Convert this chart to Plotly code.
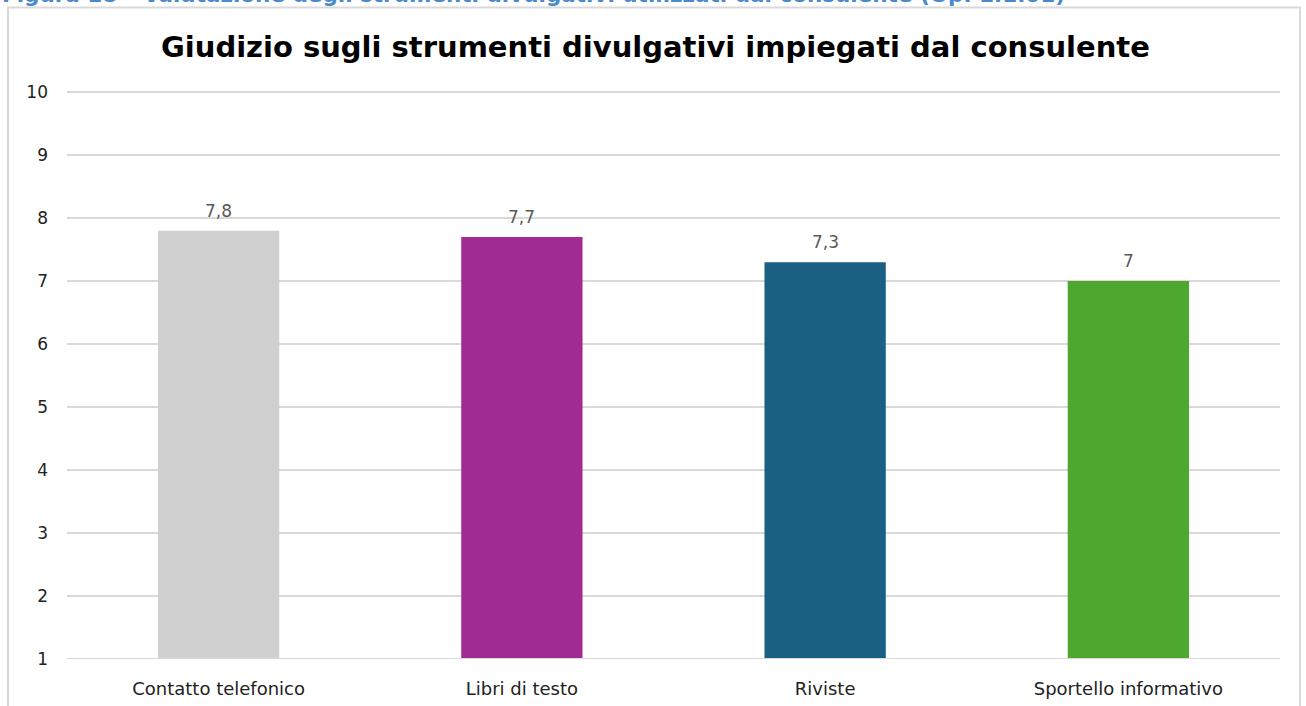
import plotly.graph_objects as go

categories = ["Contatto telefonico", "Libri di testo", "Riviste", "Sportello informativo"]
values = [7.8, 7.7, 7.3, 7.0]
value_labels = ["7,8", "7,7", "7,3", "7"]
bar_colors = ["#d0d0d0", "#a02b93", "#196083", "#4ea72e"]
y_ticks = [1, 2, 3, 4, 5, 6, 7, 8, 9, 10]
title_text = "Giudizio sugli strumenti divulgativi impiegati dal consulente"
caption_text = "Figura 18 – Valutazione degli strumenti divulgativi utilizzati dal consulente (Op. 1.1.01)"

FONT = "DejaVu Sans"

fig = go.Figure(go.Bar(
    x=categories,
    y=values,
    marker=dict(color=bar_colors, line=dict(width=0)),
    hoverinfo="x+y",
))

W, H = 1306, 706
ml, mr, mt, mb = 67, 26, 89, 47
pw, ph = W - ml - mr, H - mt - mb

def px_x(p):
    return (p - ml) / pw

def px_y(p):
    return (H - mb - p) / ph

annotations = [
    dict(text="<b>" + title_text + "</b>", xref="paper", yref="paper",
         x=px_x(655), y=px_y(47), xanchor="center", yanchor="middle",
         showarrow=False, font=dict(family=FONT, size=29, color="#000000")),
    dict(text="<b>" + caption_text + "</b>", xref="paper", yref="paper",
         x=px_x(0), y=px_y(9.5), xanchor="left", yanchor="bottom",
         showarrow=False, font=dict(family=FONT, size=21.5, color="#4a89cc")),
]
for c, v, lab in zip(categories, values, value_labels):
    annotations.append(dict(
        x=c, y=v, xref="x", yref="y", text=lab, showarrow=False,
        yanchor="bottom", yshift=8,
        font=dict(family=FONT, size=17, color="#595959"),
    ))

fig.update_layout(
    width=W, height=H,
    margin=dict(l=ml, r=mr, t=mt, b=mb, pad=0, autoexpand=False),
    paper_bgcolor="white", plot_bgcolor="white",
    separators=",.",
    bargap=0.6,
    showlegend=False,
    font=dict(family=FONT, size=17, color="#222222"),
    xaxis=dict(
        showgrid=False, showline=False, zeroline=False, automargin=False,
        ticks="", tickfont=dict(family=FONT, size=18, color="#222222"),
        ticklabelstandoff=17,
    ),
    yaxis=dict(
        range=[1, 10.05], tickvals=y_ticks, showgrid=True, gridcolor="#d9d9d9", gridwidth=1.5,
        zeroline=False, showline=False, ticks="", automargin=False,
        tickfont=dict(family=FONT, size=17, color="#222222"),
        ticklabelstandoff=18,
    ),
    annotations=annotations,
    shapes=[
        dict(type="rect", xref="paper", yref="paper",
             x0=px_x(8), x1=px_x(1300), y0=px_y(760), y1=px_y(7.5),
             line=dict(color="#d9d9d9", width=2), fillcolor="rgba(0,0,0,0)", layer="below"),
        dict(type="line", xref="paper", yref="y", x0=0, x1=1, y0=1, y1=1,
             line=dict(color="#d9d9d9", width=2)),
    ],
)

fig.write_html("out.html", config={"displayModeBar": False},
               post_script="document.body.style.margin='0';")
